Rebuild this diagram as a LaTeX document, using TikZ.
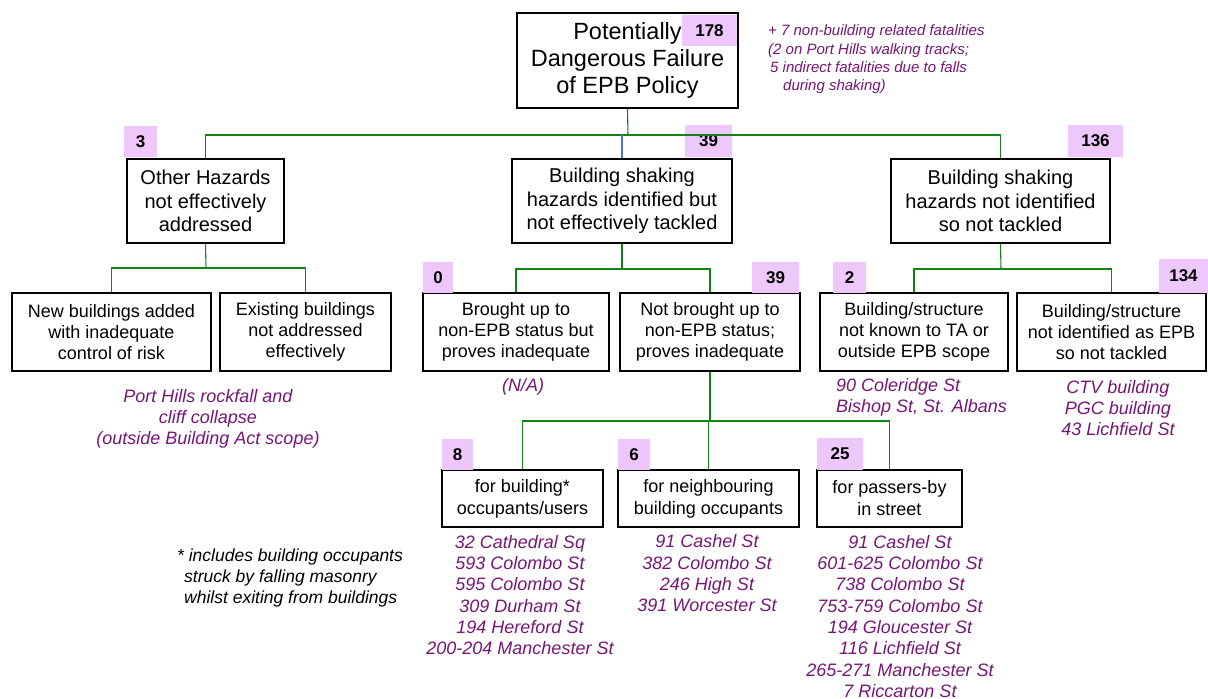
\documentclass[tikz,border=0pt]{standalone}
\usepackage{fontspec}
\setmainfont{Liberation Sans}
\definecolor{tagfill}{RGB}{238,200,252}
\definecolor{notecol}{RGB}{118,22,118}
\definecolor{linkgreen}{RGB}{20,130,20}
\definecolor{linkblue}{RGB}{80,120,200}
\begin{document}
\begin{tikzpicture}[x=1pt,y=-1pt,
  box/.style={draw=black,line width=2.4pt,fill=white,inner sep=0pt,align=center},
  topfont/.style={font=\fontsize{23.5}{27}\selectfont},
  midfont/.style={font=\fontsize{20}{23.5}\selectfont},
  lowfont/.style={font=\fontsize{18}{20.8}\selectfont},
  botfont/.style={font=\fontsize{18}{22}\selectfont},
  tag/.style={fill=tagfill,inner sep=0pt,font=\fontsize{17}{20}\bfseries\selectfont},
  note/.style={text=notecol,inner sep=0pt,align=center,font=\fontsize{18}{21.3}\itshape\selectfont},
  conn/.style={draw=linkgreen,line width=1.1pt},
  connb/.style={draw=linkblue,line width=1.1pt}]
\useasboundingbox (0,0) rectangle (1208,699);

% ---- boxes ----
\node[box,topfont,minimum width=221pt,minimum height=95pt] (top) at (627.5,60.5)
  {Potentially\\Dangerous Failure\\of EPB Policy};

\node[box,midfont,minimum width=157pt,minimum height=84pt] (oh) at (205.5,201)
  {Other Hazards\\not effectively\\addressed};
\node[box,midfont,minimum width=220pt,minimum height=84pt] (bi) at (622,201)
  {Building shaking\\hazards identified but\\not effectively tackled};
\node[box,midfont,minimum width=219pt,minimum height=84pt] (bn) at (1000.5,201)
  {Building shaking\\hazards not identified\\so not tackled};

\node[box,lowfont,minimum width=199pt,minimum height=78pt] (nb) at (111.5,332)
  {New buildings added\\with inadequate\\control of risk};
\node[box,lowfont,minimum width=171pt,minimum height=78pt] (eb) at (305.5,332)
  {Existing buildings\\not addressed\\effectively};
\node[box,lowfont,minimum width=186pt,minimum height=78pt] (bu) at (516,332)
  {Brought up to\\non-EPB status but\\proves inadequate};
\node[box,lowfont,minimum width=180pt,minimum height=78pt] (nbu) at (710,332)
  {Not brought up to\\non-EPB status;\\proves inadequate};
\node[box,lowfont,minimum width=188pt,minimum height=78pt] (kt) at (914,332)
  {Building/structure\\not known to TA or\\outside EPB scope};
\node[box,lowfont,minimum width=189pt,minimum height=78pt] (ie) at (1111.5,332)
  {Building/structure\\not identified as EPB\\so not tackled};

\node[box,botfont,minimum width=161pt,minimum height=57pt] (fb) at (522.5,498.5)
  {for building*\\occupants/users};
\node[box,botfont,minimum width=181pt,minimum height=57pt] (fn) at (708.5,498.5)
  {for neighbouring\\building occupants};
\node[box,botfont,minimum width=145pt,minimum height=57pt] (fp) at (889.5,498.5)
  {for passers-by\\in street};

% ---- count tags ----
\node[tag,minimum width=55pt,minimum height=31pt] (t178) at (709.5,30.5) {178};
\node[tag,minimum width=33pt,minimum height=31pt] (t3) at (140.5,141.5) {3};
\node[tag,minimum width=47pt,minimum height=32pt] (t39a) at (708.5,141) {39};
\node[tag,minimum width=55pt,minimum height=32pt] (t136) at (1095.5,141) {136};
\node[tag,minimum width=30pt,minimum height=31pt] (t0) at (438,277.5) {0};
\node[tag,minimum width=47pt,minimum height=31pt] (t39b) at (775.5,277.5) {39};
\node[tag,minimum width=33pt,minimum height=31pt] (t2) at (849.5,277.5) {2};
\node[tag,minimum width=49pt,minimum height=34pt] (t134) at (1183.5,276) {134};
\node[tag,minimum width=31pt,minimum height=31pt] (t8) at (457.5,454.5) {8};
\node[tag,minimum width=32pt,minimum height=31pt] (t6) at (634,454.5) {6};
\node[tag,minimum width=46pt,minimum height=32pt] (t25) at (840,454) {25};

% ---- junction points ----
\coordinate (j1) at (628,135);
\coordinate (j2a) at (206,268);
\coordinate (j2b) at (623,269);
\coordinate (j2c) at (1001,269);
\coordinate (j3) at (711,421);

% ---- connectors ----
\draw[conn] (oh.north) |- (j1) -| (bn.north);
\draw[conn] (top.south) -- (j1);
\draw[connb] (bi.north) -- (bi.north |- j1);

\draw[conn] (oh.south) -- (j2a);
\draw[conn] (nb.north) |- (j2a) -| (eb.north);

\draw[conn] (bi.south) -- (bi.south |- j2b);
\draw[conn] (bu.north) |- (j2b) -| (nbu.north);

\draw[conn] (bn.south) -- (j2c);
\draw[conn] (kt.north) |- (j2c) -| (ie.north);

\draw[conn] (nbu.south) -- (nbu.south |- j3);
\draw[conn] (fb.north) |- (j3) -| (fp.north);
\draw[conn] (fn.north) -- (fn.north |- j3);

% ---- notes ----
\node[note,anchor=west,align=left,font=\fontsize{15}{18.3}\itshape\selectfont] (extra) at (768,59.5)
  {+ 7 non-building related fatalities\\(2 on Port Hills walking tracks;\\\hspace{2pt}5 indirect fatalities due to falls\\\hspace{15pt}during shaking)};
\node[note] (ph) at (208,419) {Port Hills rockfall and\\cliff collapse\\(outside Building Act scope)};
\node[note] (na) at (523,387) {(N/A)};
\node[note,anchor=west,align=left] (kl) at (836,397.5) {90 Coleridge St\\Bishop St, St. Albans};
\node[note] (il) at (1118,408) {CTV building\\PGC building\\43 Lichfield St};
\node[note] (fbl) at (520,595) {32 Cathedral Sq\\593 Colombo St\\595 Colombo St\\309 Durham St\\194 Hereford St\\200-204 Manchester St};
\node[note] (fnl) at (707,573.5) {91 Cashel St\\382 Colombo St\\246 High St\\391 Worcester St};
\node[note] (fpl) at (900,616.5) {91 Cashel St\\601-625 Colombo St\\738 Colombo St\\753-759 Colombo St\\194 Gloucester St\\116 Lichfield St\\265-271 Manchester St\\7 Riccarton St};
\node[note,text=black,anchor=west,align=left,font=\fontsize{17.5}{21}\itshape\selectfont] (star) at (177,578)
  {* includes building occupants\\\hspace{7pt}struck by falling masonry\\\hspace{7pt}whilst exiting from buildings};
\end{tikzpicture}
\end{document}
